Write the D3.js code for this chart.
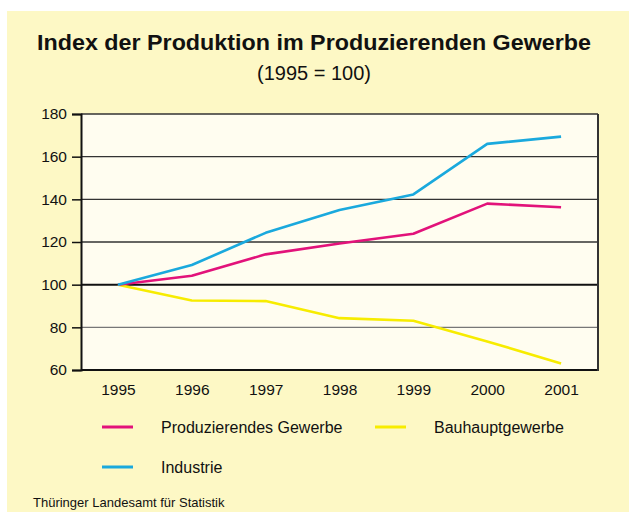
<!DOCTYPE html>
<html><head><meta charset="utf-8">
<script src="https://cdn.jsdelivr.net/npm/d3@7"></script>
<style>body{margin:0;background:#fff;}svg{display:block;font-family:"Liberation Sans",Arial,sans-serif;}</style>
</head><body>
<script>
const years = ["1995","1996","1997","1998","1999","2000","2001"];
const produzierendes = [100, 104.2, 114.2, 119.3, 123.9, 138.0, 136.3];
const industrie = [100, 109.2, 124.3, 135.0, 142.3, 166.0, 169.4];
const bauhaupt = [100, 92.6, 92.3, 84.3, 83.1, 73.4, 63.1];
const yTicks = [60, 80, 100, 120, 140, 160, 180];
const seriesNames = ["Produzierendes Gewerbe", "Bauhauptgewerbe", "Industrie"];
const seriesColors = ["#e2127a", "#f7ec00", "#1aa9dd"];
const seriesData = [produzierendes, bauhaupt, industrie];

const W = 629, H = 512;
const FF = "Liberation Sans, Arial, sans-serif";
const svg = d3.select("body").append("svg").attr("width", W).attr("height", H);
svg.append("rect").attr("x", 7).attr("y", 11).attr("width", W - 7).attr("height", H - 11).attr("fill", "#fdf8c5");

svg.append("text").attr("x", 314).attr("y", 50).attr("text-anchor", "middle")
  .attr("font-size", 22).attr("font-weight", "bold").attr("fill", "#111")
  .attr("textLength", 554).attr("lengthAdjust", "spacingAndGlyphs")
  .text("Index der Produktion im Produzierenden Gewerbe");
svg.append("text").attr("x", 314).attr("y", 80).attr("text-anchor", "middle")
  .attr("font-size", 20).attr("fill", "#111").text("(1995 = 100)");

const L = 81, R = 598, T = 114, B = 370;
const x = d3.scalePoint().domain(years).range([L, R]).padding(0.5);
const y = d3.scaleLinear().domain([60, 180]).range([B, T]);

svg.append("rect").attr("x", L).attr("y", T).attr("width", R - L).attr("height", B - T).attr("fill", "#fffdf0");

// grid
const grid = svg.append("g");
yTicks.forEach(v => {
  grid.append("line").attr("x1", L).attr("x2", R).attr("y1", y(v)).attr("y2", y(v))
    .attr("stroke", v === 100 || v === 60 ? "#111" : (v === 80 ? "#777" : "#333"))
    .attr("stroke-width", v === 100 || v === 60 ? 2 : 1.3);
});
// right border
svg.append("line").attr("x1", R).attr("x2", R).attr("y1", T).attr("y2", B + 1).attr("stroke", "#333").attr("stroke-width", 2);

// y axis
const yAxis = svg.append("g").attr("transform", `translate(${L},0)`)
  .call(d3.axisLeft(y).tickValues(yTicks).tickSize(9).tickPadding(5).tickFormat(d3.format("d")));
yAxis.select(".domain").attr("stroke", "#111").attr("stroke-width", 2);
yAxis.selectAll(".tick line").attr("stroke", "#111").attr("stroke-width", 1.5);
yAxis.selectAll("text").attr("font-size", 15.5).attr("fill", "#111").attr("font-family", FF);

// x axis labels
const xAxis = svg.append("g").attr("transform", `translate(0,${B})`)
  .call(d3.axisBottom(x).tickSize(0).tickPadding(14));
xAxis.select(".domain").remove();
xAxis.selectAll("text").attr("font-size", 15.5).attr("fill", "#111").attr("font-family", FF);

// lines
const line = d3.line().x((d, i) => x(years[i])).y(d => y(d));
const order = [1, 0, 2];
order.forEach(k => {
  svg.append("path").datum(seriesData[k]).attr("d", line).attr("fill", "none")
    .attr("stroke", seriesColors[k]).attr("stroke-width", 2.6).attr("stroke-linejoin", "round");
});

// legend
const legPos = [[102, 427], [375, 427], [102, 467]];
seriesNames.forEach((n, k) => {
  const [lx, ly] = legPos[k];
  svg.append("line").attr("x1", lx).attr("x2", lx + 31).attr("y1", ly).attr("y2", ly)
    .attr("stroke", seriesColors[k]).attr("stroke-width", 3);
  svg.append("text").attr("x", lx + 59).attr("y", ly + 6).attr("font-size", 16).attr("fill", "#111").text(n);
});

svg.append("text").attr("x", 33).attr("y", 507).attr("font-size", 13).attr("fill", "#111")
  .text("Thüringer Landesamt für Statistik");
</script>
</body></html>
